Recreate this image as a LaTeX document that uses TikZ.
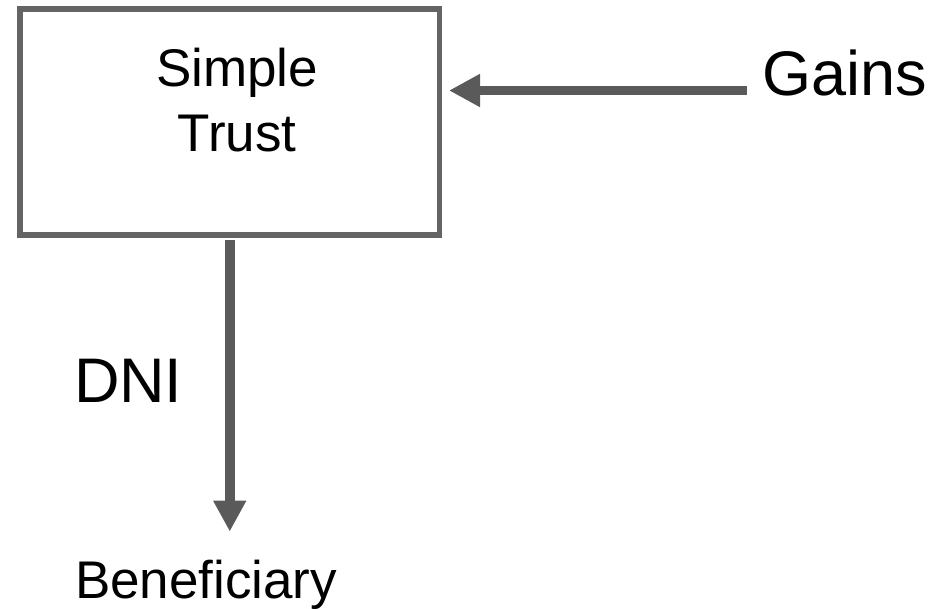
\documentclass[tikz,border=0pt]{standalone}
\usepackage{fontspec}
\setmainfont{Liberation Sans}
\usetikzlibrary{arrows.meta}
\definecolor{boxgray}{HTML}{646464}
\definecolor{flowgray}{HTML}{5A5A5A}
\begin{document}
\begin{tikzpicture}[x=1pt,y=-1pt,
  trustbox/.style={draw=boxgray, line width=5.5pt, rectangle,
    minimum width=419.5pt, minimum height=226pt, inner sep=0pt},
  plain/.style={inner sep=0pt, outer sep=0pt, text=black},
  flow/.style={draw=flowgray, line width=#1,
    -{Triangle[length=31pt,width=31pt]}},
  flow/.default=9.5pt]
  % canvas
  \useasboundingbox[fill=white] (0,0) rectangle (936,609);

  % trust box and its label
  \node[trustbox] (trust) at (229.75,122) {};
  \node[plain, align=center, font=\fontsize{53pt}{65pt}\selectfont]
    (trustlabel) at (237,100.5) {Simple\\Trust};

  % side labels
  \node[plain, anchor=base west, font=\fontsize{63pt}{75pt}\selectfont]
    (gains) at (762,95.5) {Gains};
  \node[plain, anchor=base west, font=\fontsize{63pt}{75pt}\selectfont]
    (dni) at (74,402.7) {DNI};
  \node[plain, anchor=base west, font=\fontsize{53pt}{63pt}\selectfont]
    (benef) at (75,598) {Beneficiary};

  % connectors
  \coordinate (gy) at (0,90.5);
  \draw[flow, shorten <=15pt, shorten >=6.75pt]
    (gains.west |- gy) -- (trust.east |- gy);
  \draw[flow=10.5pt, shorten <=2.25pt, shorten >=28pt]
    (trust.south) -- (benef.north -| trust.south);
\end{tikzpicture}
\end{document}
